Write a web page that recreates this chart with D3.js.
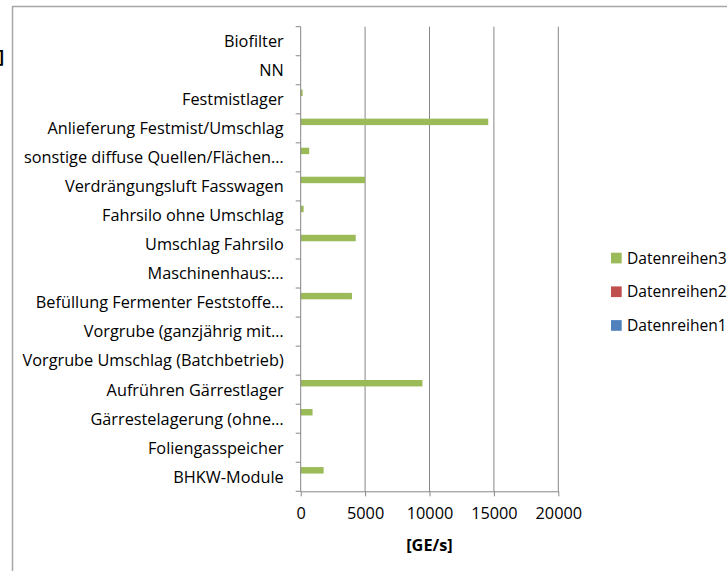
<!DOCTYPE html>
<html>
<head>
<meta charset="utf-8">
<script src="https://cdn.jsdelivr.net/npm/d3@7"></script>
<style>
  html, body { margin: 0; padding: 0; background: #fff; }
  svg { display: block; font-family: "Open Sans", "Noto Sans", sans-serif; }
</style>
</head>
<body>
<svg id="chart" width="727" height="571"></svg>
<script>
// Categories, listed top to bottom as they appear on the axis
const categories = [
  "Biofilter",
  "NN",
  "Festmistlager",
  "Anlieferung Festmist/Umschlag",
  "sonstige diffuse Quellen/Flächen…",
  "Verdrängungsluft Fasswagen",
  "Fahrsilo ohne Umschlag",
  "Umschlag Fahrsilo",
  "Maschinenhaus:…",
  "Befüllung Fermenter Feststoffe…",
  "Vorgrube (ganzjährig mit…",
  "Vorgrube Umschlag (Batchbetrieb)",
  "Aufrühren Gärrestlager",
  "Gärrestelagerung (ohne…",
  "Foliengasspeicher",
  "BHKW-Module"
];

// Odour emission rates [GE/s] per source, same order as categories
const datenreihen1 = [0, 0, 0, 0, 0, 0, 0, 0, 0, 0, 0, 0, 0, 0, 0, 0];
const datenreihen2 = [0, 0, 0, 0, 0, 0, 0, 0, 0, 0, 0, 0, 0, 0, 0, 0];
const datenreihen3 = [0, 0, 150, 14560, 660, 5000, 230, 4270, 0, 3980, 0, 0, 9450, 920, 0, 1780];

const seriesNames = ["Datenreihen3", "Datenreihen2", "Datenreihen1"];
const seriesColors = { Datenreihen1: "#4F81BD", Datenreihen2: "#C0504D", Datenreihen3: "#9BBB59" };
const xTicks = [0, 5000, 10000, 15000, 20000];
const xTitle = "[GE/s]";

const series = [
  { name: "Datenreihen1", values: datenreihen1 },
  { name: "Datenreihen2", values: datenreihen2 },
  { name: "Datenreihen3", values: datenreihen3 }
];

const svg = d3.select("#chart");
const gridColor = "#868686";
const fontSize = 16.3;

// outer chart frame (runs past the right and bottom edges)
svg.append("path")
  .attr("d", "M12.5,580 L12.5,6.5 L740,6.5")
  .attr("fill", "none")
  .attr("stroke", "#a6a6a6")
  .attr("stroke-width", 1.5);

// closing bracket of the value title at the far left
svg.append("text")
  .attr("x", -1.5).attr("y", 63)
  .attr("text-anchor", "start")
  .attr("font-weight", "bold")
  .attr("font-size", 17)
  .text("]");

const plot = { left: 300.7, right: 558.3, top: 26.7, bottom: 491.3 };

const x = d3.scaleLinear().domain([0, 20000]).range([plot.left, plot.right]);
const y = d3.scaleBand().domain(categories).range([plot.top, plot.bottom]).padding(0);
// series slots inside each category band (gap width 150%)
const ySub = d3.scaleBand().domain(seriesNames).range([0, y.bandwidth()])
  .paddingInner(0).paddingOuter(0.75);

// vertical gridlines
svg.append("g")
  .selectAll("line")
  .data(xTicks.filter(d => d > 0))
  .join("line")
  .attr("x1", d => x(d)).attr("x2", d => x(d))
  .attr("y1", plot.top).attr("y2", plot.bottom)
  .attr("stroke", gridColor).attr("stroke-width", 1);

// bars
const barG = svg.append("g");
series.forEach(s => {
  barG.append("g")
    .selectAll("rect")
    .data(s.values.map((v, i) => ({ v, c: categories[i] })))
    .join("rect")
    .attr("x", x(0))
    .attr("y", d => y(d.c) + ySub(s.name))
    .attr("width", d => x(d.v) - x(0))
    .attr("height", ySub.bandwidth())
    .attr("fill", seriesColors[s.name]);
});

// bottom axis
const xAxis = d3.axisBottom(x).tickValues(xTicks).tickFormat(d3.format("d")).tickSize(5).tickSizeOuter(0);
const gx = svg.append("g").attr("transform", `translate(0,${plot.bottom})`).call(xAxis);
gx.select(".domain").attr("stroke", gridColor);
gx.selectAll(".tick line").attr("stroke", gridColor);
gx.selectAll(".tick text")
  .attr("y", 16.5)
  .attr("font-size", fontSize)
  .attr("fill", "#000")
  .attr("font-family", "Open Sans, sans-serif");

// left axis with tick marks on the band boundaries
const gy = svg.append("g").attr("transform", `translate(${plot.left},0)`);
gy.append("line")
  .attr("x1", 0).attr("x2", 0)
  .attr("y1", plot.top).attr("y2", plot.bottom)
  .attr("stroke", gridColor);
const boundaries = categories.map(c => y(c)).concat([plot.bottom]);
gy.selectAll("line.tk")
  .data(boundaries)
  .join("line")
  .attr("class", "tk")
  .attr("x1", -5).attr("x2", 0)
  .attr("y1", d => d).attr("y2", d => d)
  .attr("stroke", gridColor);
gy.selectAll("text")
  .data(categories)
  .join("text")
  .attr("x", -17)
  .attr("y", d => y(d) + y.bandwidth() / 2)
  .attr("dy", "0.36em")
  .attr("text-anchor", "end")
  .attr("font-size", fontSize)
  .attr("fill", "#000")
  .text(d => d);

// axis title
svg.append("text")
  .attr("x", (plot.left + plot.right) / 2)
  .attr("y", 551)
  .attr("text-anchor", "middle")
  .attr("font-weight", "bold")
  .attr("font-size", fontSize)
  .text(xTitle);

// legend
const legend = svg.append("g").attr("transform", "translate(611,258)");
seriesNames.forEach((n, i) => {
  const row = legend.append("g").attr("transform", `translate(0,${i * 33.7})`);
  row.append("rect")
    .attr("x", 0).attr("y", -5.3)
    .attr("width", 10.7).attr("height", 10.7)
    .attr("fill", seriesColors[n]);
  row.append("text")
    .attr("x", 16).attr("y", 0)
    .attr("dy", "0.36em")
    .attr("font-size", 15.6)
    .text(n);
});
</script>
</body>
</html>
